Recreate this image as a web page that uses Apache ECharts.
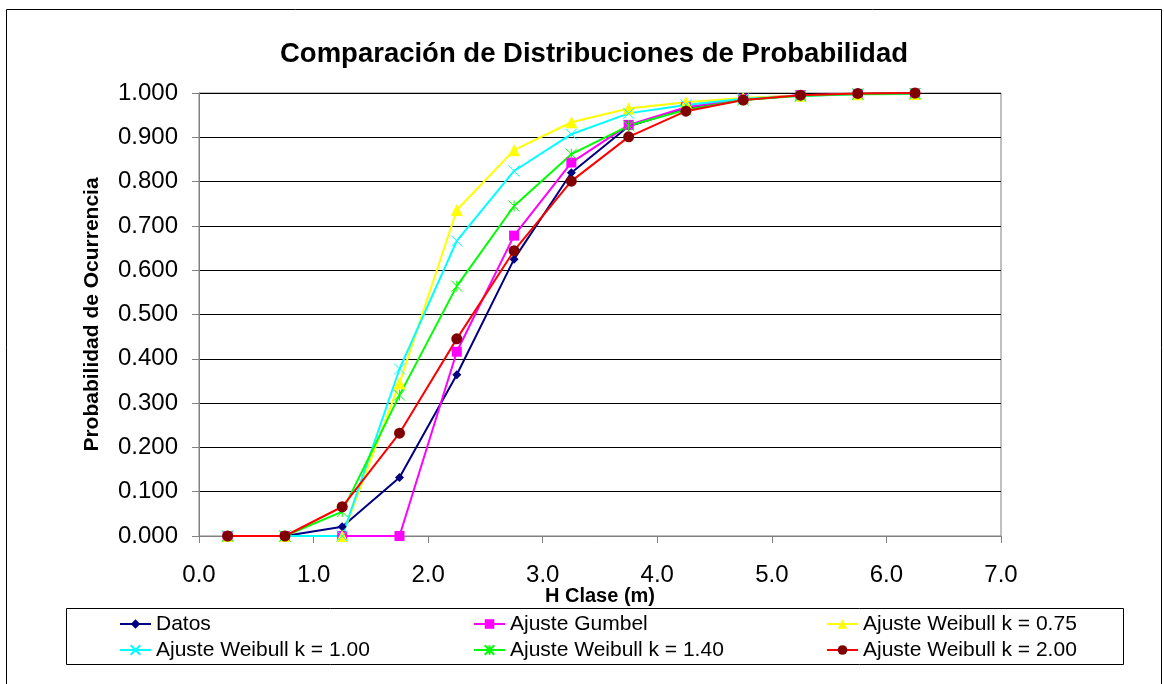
<!DOCTYPE html>
<html>
<head>
<meta charset="utf-8">
<script src="https://cdn.jsdelivr.net/npm/echarts@6/dist/echarts.min.js"></script>
<style>
html,body{margin:0;padding:0;background:#fff;}
#c{width:1164px;height:684px;}
</style>
</head>
<body>
<div id="c"></div>
<script>
// H Clase (m) class centres
var hClase = [0.25, 0.75, 1.25, 1.75, 2.25, 2.75, 3.25, 3.75, 4.25, 4.75, 5.25, 5.75, 6.25];
var datos      = [0, 0, 0.021, 0.132, 0.364, 0.625, 0.820, 0.925, 0.965, 0.985, 0.995, 0.998, 1.000];
var gumbel     = [0, 0, 0, 0, 0.416, 0.678, 0.843, 0.928, 0.968, 0.987, 0.995, 0.998, 0.999];
var weibull075 = [0, 0, 0, 0.345, 0.736, 0.871, 0.934, 0.965, 0.979, 0.989, 0.994, 0.997, 0.998];
var weibull100 = [0, 0, 0, 0.377, 0.666, 0.824, 0.907, 0.954, 0.973, 0.987, 0.993, 0.997, 0.998];
var weibull140 = [0, 0, 0.055, 0.318, 0.564, 0.745, 0.862, 0.926, 0.962, 0.984, 0.994, 0.998, 0.999];
var weibull200 = [0, 0, 0.066, 0.232, 0.445, 0.644, 0.801, 0.901, 0.959, 0.984, 0.995, 0.999, 1.000];
var seriesNames = ['Datos', 'Ajuste Gumbel', 'Ajuste Weibull k = 0.75', 'Ajuste Weibull k = 1.00', 'Ajuste Weibull k = 1.40', 'Ajuste Weibull k = 2.00'];

function pts(arr){ return hClase.map(function(x,i){ return [x, arr[i]]; }); }

var xPath = 'path://M0,0L10,10M10,0L0,10';
var starPath = 'path://M0,0L10,10M10,0L0,10M5,0L5,10';

var chart = echarts.init(document.getElementById('c'));
var FONT = 'Liberation Sans, Arial, sans-serif';

function lg(name, left, top){
  return {
    data:[name], left:left, top:top, padding:0, orient:'horizontal',
    itemWidth:31, itemHeight:12, itemGap:5,
    textStyle:{fontFamily:FONT, fontSize:21, color:'#000', lineHeight:22}
  };
}

var option = {
  backgroundColor:'#fff',
  animation:false,
  title:{
    text:'Comparación de Distribuciones de Probabilidad',
    left:589, textAlign:'center', top:35,
    textStyle:{fontFamily:FONT, fontSize:27.5, fontWeight:'bold', color:'#000'}
  },
  graphic:[
    {type:'rect', shape:{x:6.5, y:9.5, width:1155, height:690}, style:{fill:null, stroke:'#000', lineWidth:1}, silent:true, z:-1},
    {type:'rect', shape:{x:66.5, y:608.5, width:1057, height:56}, style:{fill:'#fff', stroke:'#000', lineWidth:1}, silent:true, z:-1}
  ],
  legend:[
    lg(seriesNames[0], 119, 613),
    lg(seriesNames[1], 473, 613),
    lg(seriesNames[2], 826, 613),
    lg(seriesNames[3], 119, 639),
    lg(seriesNames[4], 473, 639),
    lg(seriesNames[5], 826, 639)
  ],
  grid:{left:199, right:163, top:93, bottom:148, show:true, borderColor:'#808080', borderWidth:1},
  xAxis:{
    type:'value', min:0, max:7, interval:1,
    name:'H Clase (m)', nameLocation:'middle', nameGap:50, nameMoveOverlap:false,
    nameTextStyle:{fontFamily:FONT, fontSize:20, fontWeight:'bold', color:'#000'},
    axisLine:{show:true, onZero:false, lineStyle:{color:'#808080', width:1}},
    axisTick:{show:true, inside:false, length:7, lineStyle:{color:'#808080'}},
    axisLabel:{fontFamily:FONT, fontSize:24, color:'#000', margin:27, formatter:function(v){return v.toFixed(1);}},
    splitLine:{show:false}
  },
  yAxis:{
    type:'value', min:0, max:1, interval:0.1,
    name:'Probabilidad de Ocurrencia', nameLocation:'middle', nameGap:96, nameMoveOverlap:false,
    nameTextStyle:{fontFamily:FONT, fontSize:21, fontWeight:'bold', color:'#000'},
    axisLine:{show:true, lineStyle:{color:'#808080', width:1}},
    axisTick:{show:true, inside:false, length:7, lineStyle:{color:'#808080'}},
    axisLabel:{fontFamily:FONT, fontSize:24, color:'#000', margin:21, formatter:function(v){return v.toFixed(3);}},
    splitLine:{show:true, lineStyle:{color:'#000', width:1}}
  },
  series:[
    {name:seriesNames[0], type:'line', data:pts(datos), symbol:'diamond', symbolSize:9,
      lineStyle:{color:'#000080', width:2}, itemStyle:{color:'#000080'}},
    {name:seriesNames[1], type:'line', data:pts(gumbel), symbol:'rect', symbolSize:10,
      lineStyle:{color:'#FF00FF', width:2}, itemStyle:{color:'#FF00FF'}},
    {name:seriesNames[2], type:'line', data:pts(weibull075), symbol:'triangle', symbolSize:12,
      lineStyle:{color:'#FFFF00', width:2}, itemStyle:{color:'#FFFF00'}},
    {name:seriesNames[3], type:'line', data:pts(weibull100), symbol:xPath, symbolSize:11,
      lineStyle:{color:'#00FFFF', width:2}, itemStyle:{color:'#00FFFF', borderColor:'#00FFFF', borderWidth:1}},
    {name:seriesNames[4], type:'line', data:pts(weibull140), symbol:starPath, symbolSize:11,
      lineStyle:{color:'#00FF00', width:2}, itemStyle:{color:'#00FF00', borderColor:'#00FF00', borderWidth:1}},
    {name:seriesNames[5], type:'line', data:pts(weibull200), symbol:'circle', symbolSize:11,
      lineStyle:{color:'#FF0000', width:2}, itemStyle:{color:'#800000'}}
  ]
};
chart.setOption(option);
</script>
</body>
</html>
